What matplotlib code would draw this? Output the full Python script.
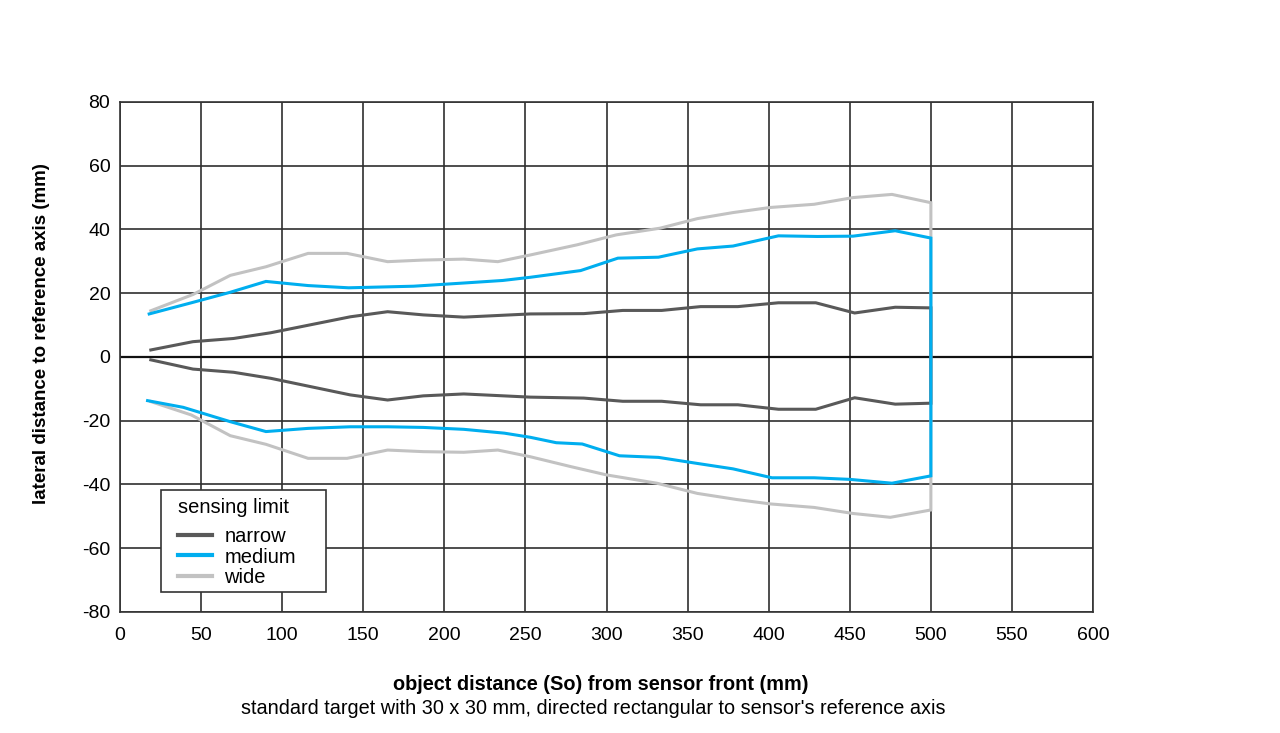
import matplotlib
matplotlib.use("Agg")
import matplotlib.pyplot as plt
from matplotlib.patches import Rectangle

plt.rcParams["font.family"] = ["Liberation Sans", "DejaVu Sans"]
plt.rcParams["axes.unicode_minus"] = False

# --- data (mm) ---
narrow_x_up = [19, 45, 70, 93, 142, 165, 187, 212, 253, 286, 310, 334, 358, 381, 406, 429, 453, 478, 500]
narrow_y_up = [2.2, 4.8, 5.8, 7.6, 12.6, 14.2, 13.2, 12.5, 13.5, 13.6, 14.6, 14.6, 15.8, 15.8, 17.0, 17.0, 13.8, 15.6, 15.4]
narrow_x_lo = [19, 45, 70, 93, 142, 165, 187, 212, 253, 286, 310, 334, 358, 381, 406, 429, 453, 478, 500]
narrow_y_lo = [-0.9, -3.8, -4.8, -6.7, -11.9, -13.5, -12.2, -11.6, -12.6, -12.9, -13.9, -13.9, -15.0, -15.0, -16.4, -16.4, -12.8, -14.8, -14.5]

medium_x_up = [18, 44, 68, 90, 116, 141, 165, 181, 212, 236, 253, 284, 307, 332, 356, 378, 406, 430, 452, 478, 500]
medium_y_up = [13.5, 17.0, 20.3, 23.7, 22.4, 21.7, 22.0, 22.2, 23.2, 24.0, 25.0, 27.1, 31.0, 31.3, 33.9, 34.8, 38.0, 37.8, 37.9, 39.6, 37.3]
medium_x_lo = [17, 39, 68, 90, 116, 142, 165, 187, 212, 237, 253, 269, 285, 308, 332, 356, 378, 402, 428, 450, 476, 500]
medium_y_lo = [-13.7, -15.8, -20.3, -23.4, -22.4, -21.9, -21.9, -22.1, -22.7, -23.9, -25.2, -26.9, -27.3, -31.0, -31.5, -33.4, -35.1, -37.9, -37.9, -38.4, -39.6, -37.3]

wide_x_up = [19, 45, 68, 90, 116, 140, 165, 187, 212, 233, 253, 282, 306, 333, 356, 378, 401, 428, 452, 476, 500]
wide_y_up = [14.5, 19.6, 25.6, 28.3, 32.5, 32.5, 29.9, 30.4, 30.7, 29.9, 32.0, 35.2, 38.3, 40.4, 43.4, 45.3, 46.9, 47.9, 50.0, 51.0, 48.4]
wide_x_lo = [19, 44, 68, 90, 116, 140, 165, 187, 212, 233, 253, 278, 300, 331, 356, 380, 401, 428, 452, 475, 500]
wide_y_lo = [-14.0, -18.2, -24.7, -27.4, -31.8, -31.8, -29.2, -29.7, -29.9, -29.2, -31.3, -34.4, -37.0, -39.6, -42.8, -44.7, -46.1, -47.2, -49.1, -50.3, -48.0]

x_ticks = list(range(0, 601, 50))
y_ticks = list(range(-80, 81, 20))

series_names = ["narrow", "medium", "wide"]
colors = {"narrow": "#595959", "medium": "#00aeef", "wide": "#c2c2c2"}

fig = plt.figure(figsize=(12.8, 7.33), dpi=100)
ax = fig.add_axes([0.09375, 0.1651, 0.7602, 0.6958])

ax.set_xlim(0, 600)
ax.set_ylim(-80, 80)
ax.set_xticks(x_ticks)
ax.set_yticks(y_ticks)
ax.grid(True, color="#2f2f2f", linewidth=1.2, zorder=0)
ax.set_axisbelow(True)
ax.tick_params(length=0, labelsize=14, pad=7)
ax.tick_params(axis="x", pad=11)
ax.axhline(0, color="#111111", linewidth=1.6, zorder=1)
for s in ax.spines.values():
    s.set_color("#333333")
    s.set_linewidth(1.2)

def closed(xu, yu, xl, yl):
    xs = list(xu) + list(reversed(xl))
    ys = list(yu) + list(reversed(yl))
    return xs, ys

data = {
    "narrow": closed(narrow_x_up, narrow_y_up, narrow_x_lo, narrow_y_lo),
    "medium": closed(medium_x_up, medium_y_up, medium_x_lo, medium_y_lo),
    "wide": closed(wide_x_up, wide_y_up, wide_x_lo, wide_y_lo),
}

handles = {}
for name, z in [("wide", 2), ("narrow", 3), ("medium", 4)]:
    xs, ys = data[name]
    (h,) = ax.plot(xs, ys, color=colors[name], linewidth=2.2, zorder=z,
                   solid_joinstyle="miter")
    handles[name] = h

# legend frame
frame = Rectangle((41 / 973, 20 / 510), 165 / 973, 102 / 510, transform=ax.transAxes,
                  facecolor="white", edgecolor="#333333", linewidth=1.2, zorder=9)
ax.add_patch(frame)

leg = ax.legend([handles[n] for n in series_names], series_names,
                title="sensing limit", loc="upper left",
                bbox_to_anchor=(58 / 973, (612 - 498) / 510), borderaxespad=0,
                fontsize=14.5, title_fontsize=14.5, frameon=False,
                handlelength=1.7, handletextpad=0.6, labelspacing=0.08,
                borderpad=0, alignment="left")
leg.set_zorder(10)
leg._legend_box.sep = 14.5 * 0.08 + 6
for line in leg.get_lines():
    line.set_linewidth(3)

fig.text(41.7 / 1280, 1 - 334 / 733, "lateral distance to reference axis (mm)",
         rotation=90, ha="center", va="center", fontsize=13.5, fontweight="bold")
fig.text(601 / 1280, 1 - 685 / 733, "object distance (So) from sensor front (mm)",
         ha="center", va="center", fontsize=14.3, fontweight="bold")
fig.text(593 / 1280, 1 - 708 / 733,
         "standard target with 30 x 30 mm, directed rectangular to sensor's reference axis",
         ha="center", va="center", fontsize=14.3)

fig.savefig("out.png", dpi=100, facecolor="white")
